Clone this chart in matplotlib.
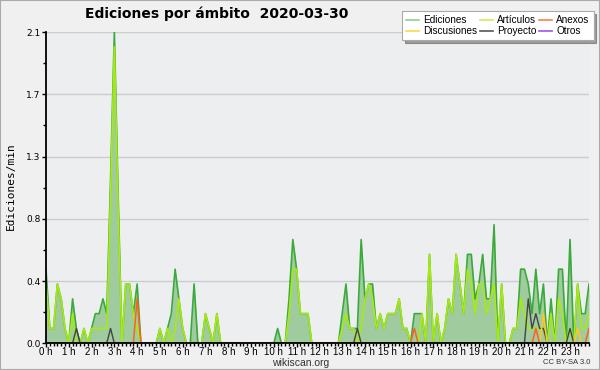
import numpy as np
import matplotlib
matplotlib.use('Agg')
import matplotlib.pyplot as plt
from matplotlib.lines import Line2D
from matplotlib.patches import Rectangle

# Ediciones/min por intervalo de 10 minutos (144 intervalos, 0 h -> 23 h 50)
ediciones = [
    0.5, 0.1, 0.1, 0.4, 0.3, 0.1, 0, 0.3, 0.1, 0, 0.1, 0,
    0.1, 0.2, 0.2, 0.3, 0.2, 1.1, 2.1, 1.0, 0, 0.4, 0.4, 0.2,
    0.4, 0, 0, 0, 0, 0, 0.1, 0, 0.1, 0.2, 0.5, 0.3,
    0.1, 0, 0, 0.4, 0, 0, 0.2, 0.1, 0, 0.2, 0, 0,
    0, 0, 0, 0, 0, 0, 0, 0, 0, 0, 0, 0,
    0, 0.1, 0, 0, 0.3, 0.7, 0.5, 0.2, 0.2, 0.2, 0, 0,
    0, 0, 0, 0, 0, 0, 0.2, 0.4, 0.1, 0.1, 0.1, 0.7,
    0.3, 0.4, 0.4, 0.1, 0.2, 0.1, 0.2, 0.2, 0.2, 0.3, 0.1, 0.1,
    0, 0.2, 0.2, 0.2, 0, 0.6, 0, 0.2, 0, 0.1, 0.3, 0.2,
    0.6, 0.4, 0.2, 0.6, 0.6, 0.3, 0.4, 0.6, 0.3, 0.3, 0.8, 0,
    0.4, 0, 0, 0.1, 0.1, 0.5, 0.5, 0.4, 0.2, 0.5, 0.2, 0.4,
    0, 0.3, 0, 0.5, 0.5, 0, 0.7, 0, 0.4, 0.2, 0.2, 0.4,
]
articulos = [
    0.4, 0.1, 0.1, 0.4, 0.3, 0.1, 0, 0.2, 0, 0, 0.1, 0,
    0.1, 0.1, 0.1, 0.1, 0.1, 1.0, 2.0, 0.9, 0, 0.4, 0.4, 0.2,
    0.1, 0, 0, 0, 0, 0, 0.1, 0, 0.1, 0, 0.1, 0.3,
    0.1, 0, 0, 0, 0, 0, 0.2, 0.1, 0, 0.2, 0, 0,
    0, 0, 0, 0, 0, 0, 0, 0, 0, 0, 0, 0,
    0, 0, 0, 0, 0.2, 0.5, 0.5, 0.2, 0.2, 0.2, 0, 0,
    0, 0, 0, 0, 0, 0, 0.1, 0.2, 0.1, 0.1, 0, 0.1,
    0.3, 0.4, 0.3, 0.1, 0.2, 0.1, 0.2, 0.2, 0.2, 0.3, 0.1, 0.1,
    0, 0, 0, 0.2, 0, 0.6, 0, 0.2, 0, 0.1, 0.3, 0.2,
    0.6, 0.4, 0.2, 0.5, 0.4, 0.2, 0.4, 0.4, 0.2, 0.3, 0.4, 0,
    0.4, 0, 0, 0.1, 0.1, 0.3, 0.2, 0.1, 0.1, 0.1, 0.1, 0.1,
    0, 0.2, 0, 0.3, 0.2, 0, 0.1, 0, 0.4, 0.1, 0.1, 0.2,
]
anexos = [
    0, 0, 0, 0, 0, 0, 0, 0, 0, 0, 0, 0,
    0, 0, 0, 0, 0, 0, 0, 0, 0, 0, 0, 0,
    0.3, 0, 0, 0, 0, 0, 0, 0, 0, 0, 0, 0,
    0, 0, 0, 0, 0, 0, 0, 0, 0, 0, 0, 0,
    0, 0, 0, 0, 0, 0, 0, 0, 0, 0, 0, 0,
    0, 0, 0, 0, 0, 0, 0, 0, 0, 0, 0, 0,
    0, 0, 0, 0, 0, 0, 0, 0, 0, 0, 0, 0,
    0, 0, 0, 0, 0, 0, 0, 0, 0, 0, 0, 0,
    0, 0.1, 0, 0, 0, 0, 0, 0, 0, 0, 0, 0,
    0, 0, 0, 0, 0, 0, 0, 0, 0, 0, 0, 0,
    0, 0, 0, 0, 0, 0, 0, 0, 0, 0.1, 0, 0,
    0, 0, 0, 0, 0, 0, 0, 0, 0, 0, 0, 0.1,
]
discusiones = [0] * 131 + [0.2, 0, 0, 0, 0, 0, 0, 0, 0, 0.1, 0, 0, 0]
proyecto = [
    0, 0, 0, 0, 0, 0, 0, 0, 0.1, 0, 0, 0,
    0, 0, 0, 0, 0, 0.1, 0, 0, 0, 0, 0, 0,
    0, 0, 0, 0, 0, 0, 0, 0, 0, 0, 0, 0,
    0, 0, 0, 0, 0, 0, 0, 0, 0, 0, 0, 0,
    0, 0, 0, 0, 0, 0, 0, 0, 0, 0, 0, 0,
    0, 0, 0, 0, 0, 0, 0, 0, 0, 0, 0, 0,
    0, 0, 0, 0, 0, 0, 0, 0, 0, 0, 0.1, 0,
    0, 0, 0, 0, 0, 0, 0, 0, 0, 0, 0, 0,
    0, 0, 0, 0, 0, 0, 0, 0, 0, 0, 0, 0,
    0, 0, 0, 0, 0, 0, 0, 0, 0, 0, 0, 0,
    0, 0, 0, 0, 0, 0, 0, 0.3, 0.1, 0.2, 0.1, 0.1,
    0, 0, 0, 0, 0, 0, 0.1, 0, 0, 0, 0, 0,
]
otros = [0] * 144

etiquetas_horas = [f"{h} h" for h in range(24)]
nombres = ['Ediciones', 'Discusiones', 'Artículos', 'Proyecto', 'Anexos', 'Otros']
cores_legenda = ['#8fd08f', '#ffd84a', '#ccee55', '#555555', '#ff8050', '#9955ee']

plt.rcParams['font.family'] = 'sans-serif'
plt.rcParams['font.sans-serif'] = ['Liberation Sans']

fig = plt.figure(figsize=(6, 3.7), dpi=100, facecolor='#f0f0f0')
ax = fig.add_axes([46/600, 1 - 343.3/370, 543/600, (343.3 - 32)/370])
ax.set_facecolor('#edeef0')

x = np.arange(len(ediciones))

# Área total de ediciones
ax.fill_between(x, ediciones, color='#9fcb9f', lw=0)
ax.plot(x, ediciones, color='#3aaa3a', lw=1.2)
# Ámbitos
ax.plot(x, otros, color='#9955ee', lw=1.1)
ax.plot(x, articulos, color='#a6ea10', lw=1.2)
ax.plot(x, proyecto, color='#444444', lw=1.0)
ax.plot(x, discusiones, color='#ffc820', lw=1.1)
ax.plot(x, anexos, color='#ff6020', lw=1.1)

ax.set_xlim(0, len(ediciones) - 1)
ax.set_ylim(0, 2.1)

yticks = np.linspace(0, 2.1, 6)
ax.set_yticks(yticks)
ax.set_yticklabels([f"{v:.1f}" for v in yticks], family='DejaVu Sans')
ax.set_yticks((yticks[:-1] + yticks[1:]) / 2, minor=True)
ax.set_xticks(np.arange(0, 144, 6))
ax.set_xticklabels(etiquetas_horas)
ax.set_xticks(np.arange(0, 144, 1), minor=True)

ax.tick_params(which='major', length=3, width=1, labelsize=7, pad=0)
ax.tick_params(which='minor', length=2.5, width=1)
ax.tick_params(axis='y', which='major', pad=1, labelsize=6.5)
ax.yaxis.grid(True, color='#cccccc', lw=1)
ax.set_axisbelow(True)

for lado in ['top', 'right']:
    ax.spines[lado].set_visible(False)
for lado in ['left', 'bottom']:
    ax.spines[lado].set_linewidth(1.3)
    ax.spines[lado].set_zorder(5)

# Textos
fig.text(85/600, 1 - 14/370, 'Ediciones por ámbito  2020-03-30', fontsize=10,
         fontweight='bold', ha='left', va='center', family='DejaVu Sans')
fig.text(11/600, 1 - 186/370, 'Ediciones/min', rotation=90, fontsize=8,
         family='DejaVu Sans Mono', ha='center', va='center')
fig.text(301/600, 1 - 363/370, 'wikiscan.org', fontsize=7.5, ha='center', va='center', color='#333333')
fig.text(590/600, 1 - 363/370, 'CC BY-SA 3.0', fontsize=5.5, ha='right', va='center', color='#333333')

# Legenda
handles = [Line2D([0], [0], color=c, lw=1.2) for c in cores_legenda]
leg = fig.legend(handles, nombres, ncol=3, loc='upper left',
                 bbox_to_anchor=(402/600, 1 - 11/370), fontsize=7.2, frameon=True,
                 shadow=True, fancybox=False, edgecolor='#aaaaaa',
                 handlelength=1.3, columnspacing=0.3, handletextpad=0.4,
                 borderpad=0.4, labelspacing=0.1, borderaxespad=0)
leg.get_frame().set_linewidth(0.8)

# Borde de la figura
fig.patches.append(Rectangle((0, 0), 1, 1, transform=fig.transFigure, fill=False,
                             edgecolor='#aaaaaa', lw=1.5))

fig.savefig('out.png', dpi=100, facecolor=fig.get_facecolor())
plt.close()
